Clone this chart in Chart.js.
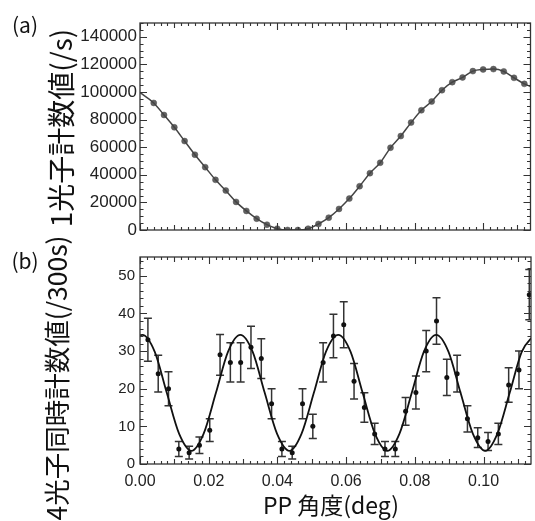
<!DOCTYPE html>
<html>
<head>
<meta charset="utf-8">
<script src="https://cdn.jsdelivr.net/npm/chart.js@4.4.1/dist/chart.umd.min.js"></script>
<style>
  html, body { margin: 0; padding: 0; background: #fff; }
  #wrap { position: relative; width: 535px; height: 521px; overflow: hidden; }
  #wrap canvas { position: absolute; left: 0; }
  #topChart { top: 0; }
  #bottomChart { top: 230px; }
</style>
</head>
<body>
<div id="wrap">
  <canvas id="topChart" width="535" height="250"></canvas>
  <canvas id="bottomChart" width="535" height="291"></canvas>
</div>
<script>
// (a) single photon counts
const singleAngle = [0.004, 0.007, 0.010, 0.013, 0.016, 0.019, 0.022, 0.025, 0.028, 0.031,
  0.034, 0.037, 0.040, 0.043, 0.046, 0.049, 0.052, 0.055, 0.058, 0.061,
  0.064, 0.067, 0.070, 0.073, 0.076, 0.079, 0.082, 0.085, 0.088, 0.091,
  0.094, 0.097, 0.100, 0.103, 0.106, 0.109, 0.112];
const singleCounts = [92070, 83350, 74400, 64440, 54550, 45530, 36360, 28580, 20360, 13820,
  8220, 3850, 950, 0, 0, 950, 4360, 8950, 15270, 22760,
  31710, 41170, 48730, 59640, 68080, 77820, 86770, 93100, 101310, 107130,
  110550, 115130, 116370, 116590, 114910, 110260, 105900];
const singleFitAngle = [0].concat(singleAngle, [0.1138]);
const singleFit = [99500].concat(singleCounts, [104000]);

// (b) four photon coincidences per 300 s
const fourAngle = [0.0023, 0.0053, 0.0083, 0.0113, 0.0143, 0.0173, 0.0203, 0.0233, 0.0263, 0.0293,
  0.0323, 0.0353, 0.0383, 0.0413, 0.0443, 0.0473, 0.0503, 0.0533, 0.0563, 0.0593,
  0.0623, 0.0653, 0.0683, 0.0713, 0.0743, 0.0773, 0.0803, 0.0833, 0.0863, 0.0893,
  0.0923, 0.0953, 0.0983, 0.1013, 0.1043, 0.1073, 0.1103, 0.1133];
const fourCounts = [33, 24, 20, 4, 3, 5, 9, 29, 27, 27,
  31, 28, 16, 4, 3, 16, 10, 27, 34, 37,
  22, 15, 8, 4, 4, 14, 19, 30, 38, 23,
  24, 12, 7, 6, 8, 21, 25, 45];
const fourErr = [5.7, 4.9, 4.5, 2.0, 1.7, 2.2, 3.0, 5.4, 5.2, 5.2,
  5.6, 5.3, 4.0, 2.0, 1.7, 4.0, 3.2, 5.2, 5.8, 6.1,
  4.7, 3.9, 2.8, 2.0, 2.0, 3.7, 4.4, 5.5, 6.2, 4.8,
  4.9, 3.5, 2.6, 2.4, 2.8, 4.6, 5.0, 6.7];
const fourFitAngle = [0, 0.0007, 0.0043, 0.0078, 0.0114, 0.0150, 0.0185, 0.0221, 0.0256, 0.0292,
  0.0328, 0.0363, 0.0399, 0.0435, 0.0470, 0.0506, 0.0541, 0.0577, 0.0613, 0.0648,
  0.0684, 0.0720, 0.0755, 0.0791, 0.0826, 0.0862, 0.0898, 0.0933, 0.0969, 0.1005,
  0.1040, 0.1076, 0.1111, 0.1147];
const fourFit = [34.2, 34.3, 29.8, 18.9, 8.0, 3.5, 8.0, 18.9, 29.8, 34.3,
  29.8, 18.9, 8.0, 3.5, 8.0, 18.9, 29.8, 34.3, 29.8, 18.9,
  8.0, 3.5, 8.0, 18.9, 29.8, 34.3, 29.8, 18.9, 8.0, 3.5,
  8.0, 18.9, 29.8, 34.3];

// tick labels
const angleTicks = [0, 0.02, 0.04, 0.06, 0.08, 0.10];
const singleTicks = [0, 20000, 40000, 60000, 80000, 100000, 120000, 140000];
const fourTicks = [0, 10, 20, 30, 40, 50];

const xMax = 0.1138;

Chart.defaults.font.family = "'Liberation Sans', Arial, sans-serif";
Chart.defaults.color = '#222';
Chart.defaults.animation = false;

const pairs = (xs, ys) => xs.map((x, i) => ({ x: x, y: ys[i] }));
const useTicks = values => scale => { scale.ticks = values.map(v => ({ value: v })); };

// frame with inward ticks on all four sides
function frameTicks(o) {
  return {
    id: 'frameTicks',
    afterDatasetsDraw(chart) {
      const ctx = chart.ctx;
      const a = chart.chartArea;
      const sx = chart.scales.x, sy = chart.scales.y;
      ctx.save();
      ctx.strokeStyle = '#333';
      ctx.lineWidth = 1.3;
      ctx.strokeRect(a.left, a.top, a.right - a.left, a.bottom - a.top);
      ctx.lineWidth = 1.1;
      ctx.beginPath();
      for (let i = 0; i * o.xStep <= sx.max + 1e-9; i++) {
        const px = Math.round(sx.getPixelForValue(i * o.xStep)) + 0.5;
        const len = i % 10 === 0 ? 7 : (i % 5 === 0 ? 5 : 3);
        ctx.moveTo(px, a.bottom); ctx.lineTo(px, a.bottom - len);
        ctx.moveTo(px, a.top); ctx.lineTo(px, a.top + len);
      }
      for (let i = 0; i * o.yStep <= sy.max + 1e-9; i++) {
        const py = Math.round(sy.getPixelForValue(i * o.yStep)) + 0.5;
        const len = i % o.yMajor === 0 ? 7 : 3.5;
        ctx.moveTo(a.left, py); ctx.lineTo(a.left + len, py);
        ctx.moveTo(a.right, py); ctx.lineTo(a.right - len, py);
      }
      ctx.stroke();
      ctx.restore();
    }
  };
}

function panelText(items) {
  return {
    id: 'panelText',
    afterDraw(chart) {
      const ctx = chart.ctx;
      items.forEach(t => {
        ctx.save();
        ctx.translate(t.x, t.y);
        if (t.rot) ctx.rotate(t.rot);
        ctx.font = t.font;
        ctx.fillStyle = '#111';
        ctx.textAlign = t.align || 'center';
        ctx.textBaseline = 'middle';
        ctx.fillText(t.text, 0, 0);
        ctx.restore();
      });
    }
  };
}

const errorBars = {
  id: 'errorBars',
  beforeDatasetsDraw(chart) {
    const ctx = chart.ctx;
    const sx = chart.scales.x, sy = chart.scales.y;
    const a = chart.chartArea;
    ctx.save();
    ctx.beginPath();
    ctx.rect(a.left, a.top, a.right - a.left, a.bottom - a.top);
    ctx.clip();
    ctx.strokeStyle = '#333';
    ctx.lineWidth = 1.5;
    ctx.beginPath();
    fourAngle.forEach((x, i) => {
      const px = sx.getPixelForValue(x);
      const hi = sy.getPixelForValue(fourCounts[i] + fourErr[i]);
      const lo = sy.getPixelForValue(fourCounts[i] - fourErr[i]);
      ctx.moveTo(px, hi); ctx.lineTo(px, lo);
      ctx.moveTo(px - 4, hi); ctx.lineTo(px + 4, hi);
      ctx.moveTo(px - 4, lo); ctx.lineTo(px + 4, lo);
    });
    ctx.stroke();
    ctx.restore();
  }
};

const cjk = "'Noto Sans CJK JP', 'Noto Sans', sans-serif";

// ---- (a) ----
new Chart(document.getElementById('topChart').getContext('2d'), {
  type: 'scatter',
  data: {
    datasets: [{
      label: 'fit',
      data: pairs(singleFitAngle, singleFit),
      showLine: true,
      cubicInterpolationMode: 'monotone',
      borderColor: '#444',
      borderWidth: 1.5,
      pointRadius: 0
    }, {
      label: '1光子計数値',
      data: pairs(singleAngle, singleCounts),
      pointRadius: 3,
      backgroundColor: '#626262',
      borderColor: '#555',
      borderWidth: 0.5
    }]
  },
  options: {
    responsive: false,
    layout: { padding: { top: 23, right: 1.5, left: 0, bottom: 0 } },
    plugins: { legend: { display: false }, tooltip: { enabled: false } },
    scales: {
      x: {
        type: 'linear', min: 0, max: xMax,
        ticks: { display: false },
        grid: { display: false, drawTicks: false },
        border: { display: false },
        afterFit: s => { s.height = 20; }
      },
      y: {
        min: 0, max: 150000,
        ticks: { padding: 3, autoSkip: false, font: { size: 17 }, callback: v => String(v) },
        grid: { display: false, drawTicks: false },
        border: { display: false },
        afterBuildTicks: useTicks(singleTicks),
        afterFit: s => { s.width = 140; }
      }
    }
  },
  plugins: [frameTicks({ xStep: 0.002, yStep: 5000, yMajor: 4 }), panelText([
    { text: '(a)', x: 25, y: 25, font: "21px " + cjk },
    { text: '1光子計数値(/s)', x: 61, y: 128, rot: -Math.PI / 2, font: "28px " + cjk }
  ])]
});

// ---- (b) ----
new Chart(document.getElementById('bottomChart').getContext('2d'), {
  type: 'scatter',
  data: {
    datasets: [{
      label: 'fit',
      data: pairs(fourFitAngle, fourFit),
      showLine: true,
      cubicInterpolationMode: 'monotone',
      borderColor: '#111',
      borderWidth: 1.8,
      pointRadius: 0
    }, {
      label: '4光子同時計数値',
      data: pairs(fourAngle, fourCounts),
      pointRadius: 2.5,
      backgroundColor: '#111',
      borderColor: '#111',
      borderWidth: 0
    }]
  },
  options: {
    responsive: false,
    layout: { padding: { top: 27, right: 1.5, left: 0, bottom: 0 } },
    plugins: { legend: { display: false }, tooltip: { enabled: false } },
    scales: {
      x: {
        type: 'linear', min: 0, max: xMax,
        ticks: { padding: 8, autoSkip: false, font: { size: 16 }, callback: v => v.toFixed(2) },
        grid: { display: false, drawTicks: false },
        border: { display: false },
        afterBuildTicks: useTicks(angleTicks),
        afterFit: s => { s.height = 57; }
      },
      y: {
        min: 0, max: 55,
        ticks: { padding: 5, autoSkip: false, font: { size: 15 } },
        grid: { display: false, drawTicks: false },
        border: { display: false },
        afterBuildTicks: useTicks(fourTicks),
        afterFit: s => { s.width = 140; }
      }
    }
  },
  plugins: [errorBars, frameTicks({ xStep: 0.002, yStep: 2, yMajor: 5 }), panelText([
    { text: '(b)', x: 25, y: 31, font: "21px " + cjk },
    { text: '4光子同時計数値(/300s)', x: 57, y: 148, rot: -Math.PI / 2, font: "26.5px " + cjk },
    { text: 'PP 角度(deg)', x: 331, y: 275, font: "23px " + cjk }
  ])]
});
</script>
</body>
</html>
